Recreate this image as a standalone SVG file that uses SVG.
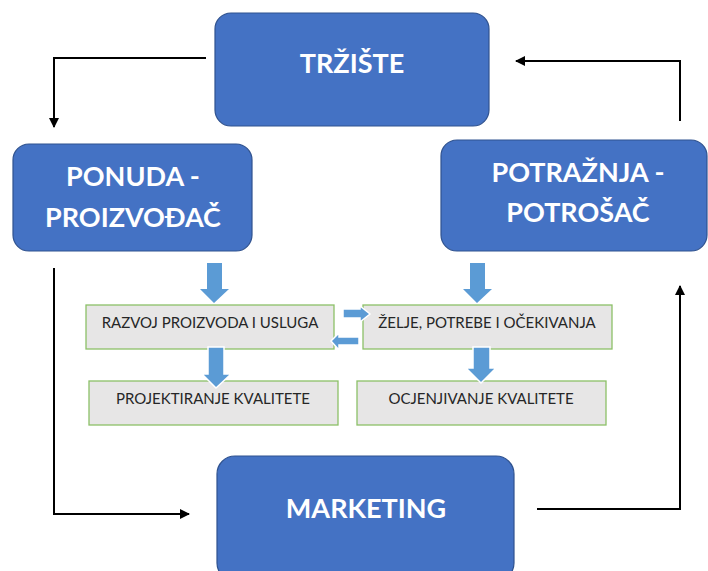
<svg xmlns="http://www.w3.org/2000/svg" width="708" height="571" viewBox="0 0 708 571">
<defs>
<marker id="ah" markerWidth="10" markerHeight="10" refX="9" refY="5" orient="auto" markerUnits="userSpaceOnUse">
<path d="M0,0 L10,5 L0,10 Z" fill="#000"/>
</marker>
<style>
.big{fill:#4472c4;stroke:#2f528f;stroke-width:1.2}
.bt{font-family:Lato,"Open Sans","Liberation Sans",sans-serif;font-weight:bold;font-size:27px;fill:#fff;text-anchor:middle}
.gb{fill:#e7e6e6;stroke:#8cc068;stroke-width:1.3}
.gt{font-family:Lato,"Open Sans","Liberation Sans",sans-serif;font-size:15px;fill:#262626;text-anchor:middle}
.ba{fill:#5b9bd5}
.bw{fill:#5b9bd5;stroke:#fff;stroke-width:1.5}
.cn{fill:none;stroke:#000;stroke-width:2}
</style>
</defs>
<rect width="708" height="571" fill="#fff"/>
<g id="connectors">
<polyline class="cn" points="206,58 54,58 54,127" marker-end="url(#ah)"/>
<polyline class="cn" points="680,121 680,61 516,61" marker-end="url(#ah)"/>
<polyline class="cn" points="54,268 54,514 189,514" marker-end="url(#ah)"/>
<polyline class="cn" points="537,509 680,509 680,286" marker-end="url(#ah)"/>
</g>
<g id="trziste">
<rect class="big" x="215" y="13" width="274" height="113" rx="16"/>
<text class="bt" x="352" y="73">TRŽIŠTE</text>
</g>
<g id="ponuda">
<rect class="big" x="13" y="144" width="239" height="107" rx="16"/>
<text class="bt" x="133" y="186">PONUDA -</text>
<text class="bt" x="133" y="227">PROIZVOĐAČ</text>
</g>
<g id="potraznja">
<rect class="big" x="441" y="140" width="266" height="111" rx="16"/>
<text class="bt" x="578" y="182">POTRAŽNJA -</text>
<text class="bt" x="578" y="222">POTROŠAČ</text>
</g>
<g id="marketing">
<rect class="big" x="217" y="456" width="297" height="125" rx="18"/>
<text class="bt" x="366" y="518">MARKETING</text>
</g>
<g id="razvoj">
<rect class="gb" x="86" y="305" width="248" height="44"/>
<text class="gt" x="210" y="328">RAZVOJ PROIZVODA I USLUGA</text>
</g>
<g id="projektiranje">
<rect class="gb" x="89" y="381" width="249" height="44"/>
<text class="gt" x="213" y="404">PROJEKTIRANJE KVALITETE</text>
</g>
<g id="zelje">
<rect class="gb" x="363" y="305" width="249" height="44"/>
<text class="gt" x="487" y="328">ŽELJE, POTREBE I OČEKIVANJA</text>
</g>
<g id="ocjenjivanje">
<rect class="gb" x="357" y="381" width="249" height="44"/>
<text class="gt" x="481" y="404">OCJENJIVANJE KVALITETE</text>
</g>
<g id="block-arrows">
<polygon class="ba" points="207,263 222,263 222,289 229,289 214,303 200,289 207,289"/>
<polygon class="bw" points="208,347 224,347 224,374 231,374 216,388 202,374 208,374"/>
<polygon class="ba" points="470,263 485,263 485,289 492,289 477,303 463,289 470,289"/>
<polygon class="bw" points="473,347 490,347 490,368 496,368 481,383 466,368 473,368"/>
<polygon class="bw" points="343,309 360,309 360,306 370,314 360,322 360,318 343,318"/>
<polygon class="bw" points="359,337 339,337 339,333 331,341 339,350 339,345 359,345"/>
</g>
</svg>
